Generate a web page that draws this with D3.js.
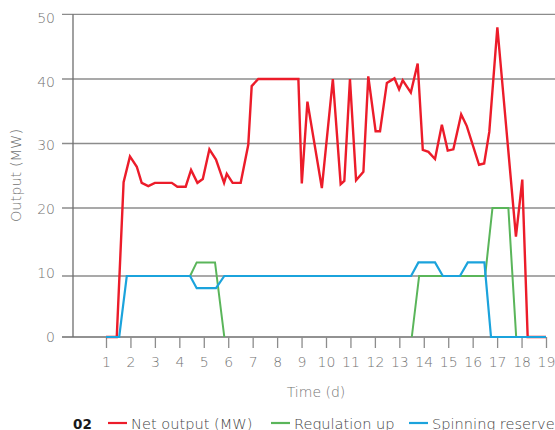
<!DOCTYPE html>
<html>
<head>
<meta charset="utf-8">
<script src="https://cdn.jsdelivr.net/npm/d3@7"></script>
<style>
  body { margin: 0; background: #fff; }
  text { font-family: "DejaVu Sans", "Open Sans", sans-serif; font-weight: 200; }
</style>
</head>
<body>
<svg id="chart" width="555" height="430"></svg>
<script>
// Net output of the plant over time (MW)
const netDays = [1, 1.44, 1.72, 1.98, 2.26, 2.46, 2.73, 3.0, 3.69, 3.92, 4.26, 4.48, 4.74, 4.96,
  5.23, 5.5, 5.83, 5.94, 6.18, 6.51, 6.82, 6.96, 7.23, 8.87, 9.01, 9.24, 9.83, 10.28, 10.6,
  10.75, 10.98, 11.23, 11.53, 11.73, 12.03, 12.21, 12.49, 12.8, 12.99, 13.14, 13.47, 13.75,
  13.96, 14.19, 14.46, 14.74, 14.98, 15.21, 15.53, 15.76, 16.26, 16.47, 16.68, 17.01, 17.77,
  18.03, 18.25, 19];
const netOutput = [0, 0, 24, 28, 26.4, 23.9, 23.4, 23.9, 23.9, 23.3, 23.3, 25.9, 23.9, 24.5,
  29.1, 27.5, 23.9, 25.3, 23.9, 23.9, 29.8, 38.9, 40, 40, 23.8, 36.5, 23.1, 40, 23.7,
  24.2, 40, 24.3, 25.6, 40.4, 31.9, 31.9, 39.4, 40.1, 38.4, 39.8, 37.9, 42.4,
  29.0, 28.7, 27.6, 32.9, 28.9, 29.1, 34.5, 32.7, 26.7, 26.9, 31.8, 48, 15.8,
  24.4, 0, 0];

// Regulation up capacity (MW); null marks the stretches where none is offered
const regDays = [4.44, 4.71, 5.46, 5.84, null, 13.51, 13.81, 16.51, 16.81, 17.46, 17.78];
const regUp = [10, 12, 12, 0, null, 0, 10, 10, 20, 20, 0];

// Spinning reserve capacity (MW)
const spinDays = [1, 1.54, 1.85, 4.44, 4.71, 5.5, 5.84, 13.48, 13.78, 14.46, 14.78, 15.48, 15.8, 16.48, 16.75, 19];
const spinReserve = [0, 0, 10, 10, 8, 8, 10, 10, 12, 12, 10, 10, 12, 12, 0, 0];

const xTicks = d3.range(1, 20);
const yTicks = [0, 10, 20, 30, 40, 50];

const svg = d3.select("#chart");

const x = d3.scaleLinear().domain([1, 19]).range([106, 546]);
const y = d3.scaleLinear().domain(yTicks).range([337, 276, 208, 143.5, 79, 14.3]);
// evenly spaced positions for the y tick labels
const yLabel = d3.scaleLinear().domain([0, 50]).range([336.7, 17.8]);

const gray = "#737373";

// horizontal grid lines
svg.append("g").selectAll("line").data(yTicks).join("line")
  .attr("x1", 62)
  .attr("x2", d => d === 0 ? x(19) : 555)
  .attr("y1", d => y(d)).attr("y2", d => y(d))
  .attr("stroke", d => d === 0 ? "#6e6e6e" : "#8c8c8c")
  .attr("stroke-width", 1.3);

// y tick labels
svg.append("g").selectAll("text").data(yTicks).join("text")
  .attr("x", 55).attr("y", d => yLabel(d) + 5)
  .attr("text-anchor", "end")
  .attr("fill", gray)
  .attr("font-size", 14)
  .text(d => d);

// y axis line
svg.append("line")
  .attr("x1", 73).attr("x2", 73)
  .attr("y1", y(50)).attr("y2", y(0))
  .attr("stroke", "#6e6e6e").attr("stroke-width", 1.3);

// x axis ticks and labels
const xAxis = svg.append("g")
  .attr("transform", `translate(0,${y(0)})`)
  .call(d3.axisBottom(x).tickValues(xTicks).tickSize(11).tickSizeOuter(0).tickFormat(d3.format("d")));
xAxis.select(".domain").remove();
xAxis.selectAll(".tick line").attr("stroke", "#8c8c8c").attr("stroke-width", 1.3);
xAxis.selectAll(".tick text")
  .attr("fill", gray)
  .attr("font-size", 14)
  .attr("font-family", null)
  .attr("y", 30)
  .attr("dy", 0);

// axis titles
svg.append("text")
  .attr("x", 316).attr("y", 397)
  .attr("text-anchor", "middle")
  .attr("fill", gray).attr("font-size", 14)
  .text("Time (d)");

svg.append("text")
  .attr("transform", "translate(20.5,175.5) rotate(-90)")
  .attr("text-anchor", "middle")
  .attr("fill", gray).attr("font-size", 14.5)
  .text("Output (MW)");

// series lines
const series = [
  { days: netDays, values: netOutput, color: "#ec1c2a", width: 2.4 },
  { days: regDays, values: regUp, color: "#5ab55a", width: 2 },
  { days: spinDays, values: spinReserve, color: "#1ba3dc", width: 2.2 }
];

const line = d3.line()
  .defined(d => d[0] != null && d[1] != null)
  .x(d => x(d[0])).y(d => y(d[1]));

svg.append("g").selectAll("path").data(series).join("path")
  .attr("d", s => line(s.days.map((d, i) => [d, s.values[i]])))
  .attr("fill", "none")
  .attr("stroke", s => s.color)
  .attr("stroke-width", s => s.width)
  .attr("stroke-linejoin", "miter");

// legend
const legendY = 423;
svg.append("text")
  .attr("x", 73).attr("y", legendY + 5.5)
  .attr("font-size", 13.5).attr("fill", "#1a1a1a")
  .style("font-weight", 700)
  .text("02");

const legendItems = [
  { label: "Net output (MW)", color: "#ec1c2a", x0: 108 },
  { label: "Regulation up", color: "#5ab55a", x0: 271 },
  { label: "Spinning reserve", color: "#1ba3dc", x0: 409 }
];
const lg = svg.append("g").selectAll("g").data(legendItems).join("g");
lg.append("line")
  .attr("x1", d => d.x0).attr("x2", d => d.x0 + 19)
  .attr("y1", legendY).attr("y2", legendY)
  .attr("stroke", d => d.color).attr("stroke-width", 2.2);
lg.append("text")
  .attr("x", d => d.x0 + 23).attr("y", legendY + 5.5)
  .attr("font-size", 14.6).attr("fill", "#444")
  .text(d => d.label);
</script>
</body>
</html>
